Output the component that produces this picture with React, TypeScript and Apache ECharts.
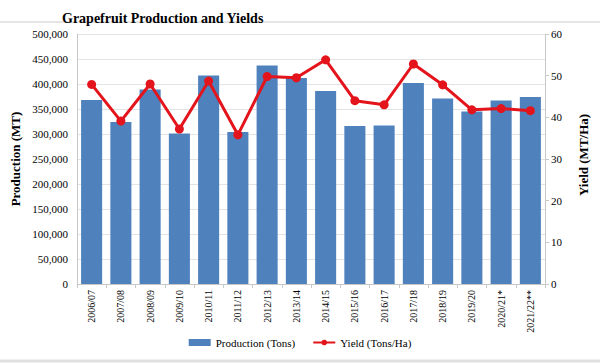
import React, { useEffect, useRef } from "react";
import * as echarts from "echarts";

const categories = [
  "2006/07", "2007/08", "2008/09", "2009/10", "2010/11", "2011/12", "2012/13", "2013/14",
  "2014/15", "2015/16", "2016/17", "2017/18", "2018/19", "2019/20", "2020/21*", "2021/22**",
];
const production = [
  368000, 324000, 389000, 301000, 417000, 304000, 437000, 412000,
  386000, 316000, 317000, 402000, 371000, 345000, 367000, 374000,
];
const yields = [
  47.9, 39.1, 48.0, 37.2, 48.7, 35.8, 49.8, 49.5,
  53.8, 44.0, 43.0, 52.8, 47.8, 41.8, 42.1, 41.6,
];

const FONT = "'Liberation Serif', 'Times New Roman', serif";

export default function App() {
  const ref = useRef<HTMLDivElement>(null);
  useEffect(() => {
    if (!ref.current) return;
    const chart = echarts.init(ref.current, null, { renderer: "svg" });
    chart.setOption({
      animation: false,
      textStyle: { fontFamily: FONT },
      title: {
        text: "Grapefruit Production and Yields",
        left: 57,
        top: 6,
        textStyle: { fontFamily: FONT, fontSize: 14, fontWeight: "bold", color: "#000" },
      },
      graphic: [
        { type: "line", shape: { x1: 0, y1: 22, x2: 600, y2: 22 }, style: { stroke: "#dcdcdc", lineWidth: 1.5 } },
        { type: "line", shape: { x1: 0, y1: 361, x2: 600, y2: 361 }, style: { stroke: "#e0e0e0", lineWidth: 3 } },
        {
          type: "text", x: 15, y: 159, rotation: Math.PI / 2,
          style: { text: "Production (MT)", font: `bold 13px ${FONT}`, fill: "#000", textAlign: "center", textVerticalAlign: "middle" },
        },
        {
          type: "text", x: 583, y: 155, rotation: Math.PI / 2,
          style: { text: "Yield (MT/Ha)", font: `bold 13px ${FONT}`, fill: "#000", textAlign: "center", textVerticalAlign: "middle" },
        },
      ],
      legend: {
        bottom: 11,
        left: "center",
        itemWidth: 22,
        itemHeight: 7,
        itemGap: 17,
        textStyle: { fontFamily: FONT, fontSize: 11, color: "#000" },
        data: [
          { name: "Production (Tons)", icon: "rect" },
          { name: "Yield (Tons/Ha)" },
        ],
      },
      grid: { left: 77, right: 55, top: 34, bottom: 80, containLabel: false },
      xAxis: {
        type: "category",
        data: categories,
        axisLine: { lineStyle: { color: "#c8c8c8" } },
        axisTick: { show: true, length: 4, lineStyle: { color: "#c8c8c8" } },
        axisLabel: { rotate: 90, fontSize: 10, color: "#000", margin: 6, fontFamily: FONT },
      },
      yAxis: [
        {
          type: "value",
          min: 0,
          max: 500000,
          interval: 50000,
          axisLine: { show: true, lineStyle: { color: "#c8c8c8" } },
          axisTick: { show: false },
          splitLine: { lineStyle: { color: "#e3e3e3" } },
          axisLabel: {
            fontSize: 11,
            color: "#000",
            margin: 9,
            fontFamily: FONT,
            formatter: (v: number) => v.toLocaleString("en-US"),
          },
        },
        {
          type: "value",
          min: 0,
          max: 60,
          interval: 10,
          axisLine: { show: true, lineStyle: { color: "#c8c8c8" } },
          axisTick: { show: true, length: 4, lineStyle: { color: "#c8c8c8" } },
          splitLine: { show: false },
          axisLabel: { fontSize: 11, color: "#000", margin: 6, fontFamily: FONT },
        },
      ],
      series: [
        {
          name: "Production (Tons)",
          type: "bar",
          data: production,
          barCategoryGap: "28%",
          itemStyle: { color: "#4f81bd" },
        },
        {
          name: "Yield (Tons/Ha)",
          type: "line",
          yAxisIndex: 1,
          data: yields,
          symbol: "circle",
          symbolSize: 9,
          lineStyle: { color: "#e3141b", width: 3 },
          itemStyle: { color: "#e3141b" },
        },
      ],
    });
    return () => chart.dispose();
  }, []);
  return <div ref={ref} style={{ width: 600, height: 364, position: "absolute", left: 0, top: 0 }} />;
}
